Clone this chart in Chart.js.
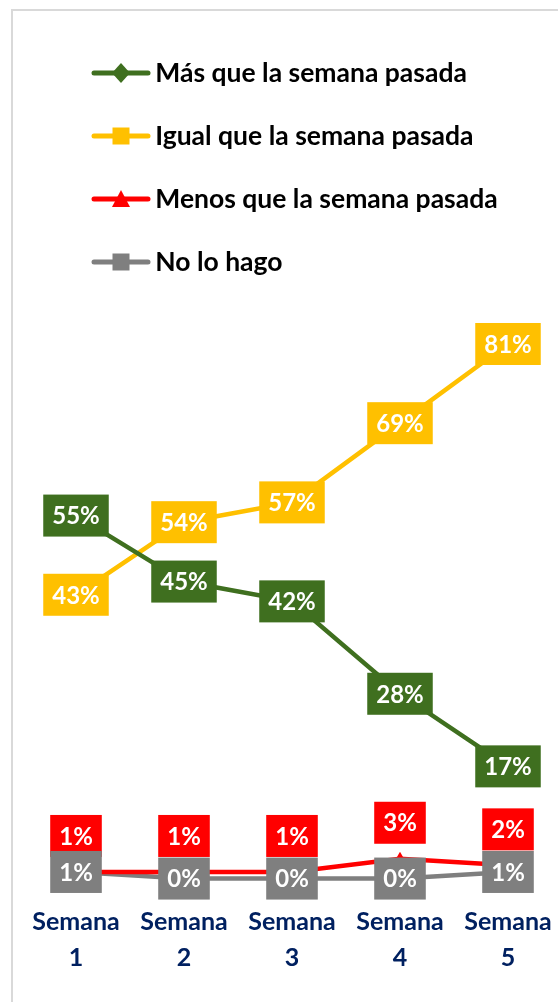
<!DOCTYPE html>
<html>
<head>
<meta charset="utf-8">
<script src="https://cdn.jsdelivr.net/npm/chart.js@4"></script>
<style>
  body { margin: 0; background: #fff; }
  #wrap { position: relative; width: 558px; height: 1002px; overflow: hidden; }
  #marco { position: absolute; left: 11px; top: 9px; width: 600px; height: 1100px; border: 2px solid #d9d9d9; }
  #grafico { position: absolute; left: 0; top: 0; }
</style>
</head>
<body>
<div id="wrap">
  <div id="marco"></div>
  <canvas id="grafico" width="558" height="1002"></canvas>
</div>
<script>
// semanas y porcentajes
var semanas = [['Semana', '1'], ['Semana', '2'], ['Semana', '3'], ['Semana', '4'], ['Semana', '5']];
var masQue = [55, 45, 42, 28, 17];
var igualQue = [43, 54, 57, 69, 81];
var menosQue = [1, 1, 1, 3, 2];
var noLoHago = [1, 0, 0, 0, 1];

var verde = '#3f6f1f', amarillo = '#ffc000', rojo = '#ff0000', gris = '#7f7f7f';

// muestra de leyenda: linea con el marcador en medio
function muestra(color, forma) {
  var c = document.createElement('canvas');
  c.width = 66; c.height = 22;
  var g = c.getContext('2d');
  g.strokeStyle = color; g.fillStyle = color;
  g.lineWidth = 5; g.lineCap = 'round';
  g.beginPath(); g.moveTo(8, 11); g.lineTo(62, 11); g.stroke();
  g.beginPath();
  if (forma == 'rombo') {
    g.moveTo(35, 1); g.lineTo(44, 11); g.lineTo(35, 21); g.lineTo(26, 11);
  } else if (forma == 'triangulo') {
    g.moveTo(35, 2); g.lineTo(44, 19); g.lineTo(26, 19);
  } else {
    g.rect(26.5, 2.5, 17, 17);
  }
  g.closePath(); g.fill();
  return c;
}

// etiquetas de valor en cajas del color de la serie
var etiquetas = {
  id: 'etiquetas',
  afterDatasetsDraw: function(chart) {
    var ctx = chart.ctx;
    ctx.save();
    ctx.font = 'bold 24px Lato';
    ctx.textAlign = 'center';
    ctx.textBaseline = 'middle';
    chart.data.datasets.forEach(function(ds, i) {
      chart.getDatasetMeta(i).data.forEach(function(pt, j) {
        var txt = ds.data[j] + '%';
        var w = ctx.measureText(txt).width + 18, h = 42;
        var y = pt.y + (ds.desplazar || 0);
        ctx.fillStyle = ds.borderColor;
        ctx.fillRect(pt.x - w / 2, y - h / 2, w, h);
        ctx.fillStyle = '#fff';
        ctx.fillText(txt, pt.x, y + 1);
      });
    });
    ctx.restore();
  }
};

var chart = new Chart(document.getElementById('grafico'), {
  type: 'line',
  data: {
    labels: semanas,
    datasets: [
      { label: 'Más que la semana pasada', data: masQue, borderColor: verde, backgroundColor: verde,
        pointStyle: 'rectRot', leyenda: muestra(verde, 'rombo') },
      { label: 'Igual que la semana pasada', data: igualQue, borderColor: amarillo, backgroundColor: amarillo,
        pointStyle: 'rect', leyenda: muestra(amarillo, 'cuadro') },
      { label: 'Menos que la semana pasada', data: menosQue, borderColor: rojo, backgroundColor: rojo,
        pointStyle: 'triangle', desplazar: -36, leyenda: muestra(rojo, 'triangulo') },
      { label: 'No lo hago', data: noLoHago, borderColor: gris, backgroundColor: gris,
        pointStyle: 'rect', leyenda: muestra(gris, 'cuadro') }
    ]
  },
  options: {
    responsive: false,
    animation: false,
    layout: { padding: { top: 23.25, left: 59.5, right: 50, bottom: 23 } },
    elements: {
      line: { borderWidth: 4.5, tension: 0 },
      point: { radius: 7, borderWidth: 0 }
    },
    scales: {
      x: {
        grid: { display: false, drawTicks: false },
        border: { display: false },
        ticks: { color: '#002060', padding: 3, font: { family: 'Lato', weight: 'bold', size: 25, lineHeight: 1.44 } }
      },
      y: {
        min: -3.4,
        max: 89.9,
        grid: { display: false, drawTicks: false },
        border: { display: false },
        ticks: { display: false },
        afterFit: function(scale) { scale.width = 16.5; }
      }
    },
    plugins: {
      tooltip: { enabled: false },
      legend: {
        position: 'top',
        align: 'start',
        labels: {
          usePointStyle: true,
          pointStyleWidth: 46,
          padding: 36.5,
          color: '#000',
          font: { family: 'Lato', weight: 'bold', size: 26.5 },
          generateLabels: function(chart) {
            var items = Chart.defaults.plugins.legend.labels.generateLabels(chart);
            items.forEach(function(it) {
              it.pointStyle = chart.data.datasets[it.datasetIndex].leyenda;
            });
            return items;
          }
        }
      }
    }
  },
  plugins: [etiquetas]
});
</script>
</body>
</html>
